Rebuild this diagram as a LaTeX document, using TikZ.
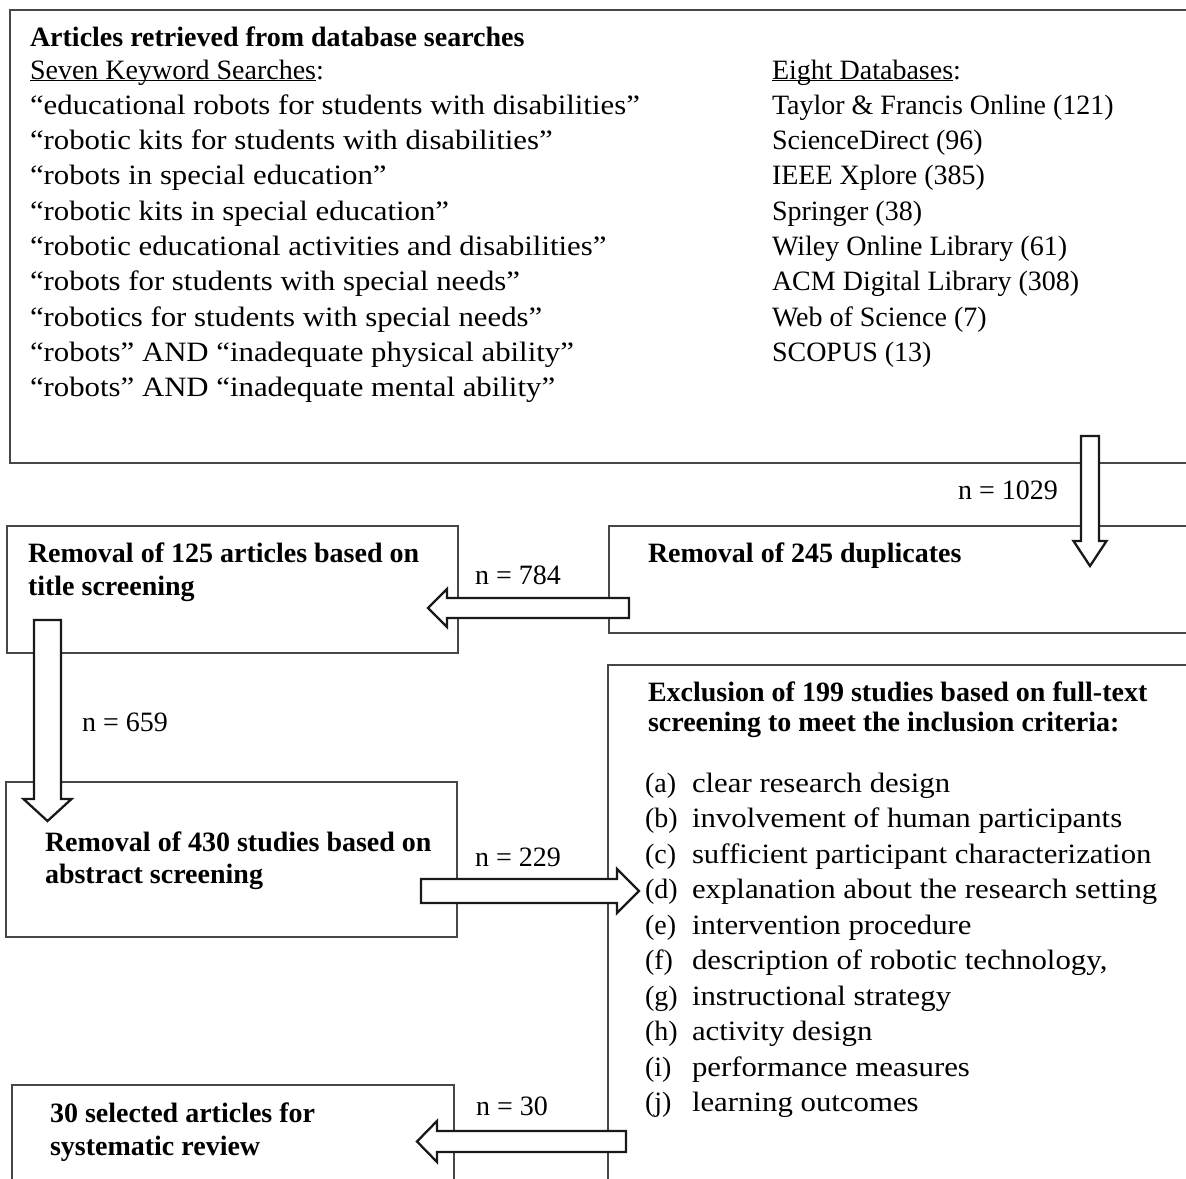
\documentclass[tikz,border=0pt]{standalone}
\usepackage{fontspec}
\setmainfont{Liberation Serif}
\newfontfamily\widefont[FakeStretch=1.1]{Liberation Serif}
\usetikzlibrary{calc}
\tikzset{
  box/.style={draw=black!72, line width=1.5pt, inner sep=0pt, outer sep=0pt, anchor=north west},
  txt/.style={inner sep=0pt, outer sep=0pt, anchor=base west, align=left, font=\fontsize{28}{35.3}\selectfont},
  btxt/.style={inner sep=0pt, outer sep=0pt, anchor=base west, align=left, font=\fontsize{28}{33}\selectfont\bfseries},
  barrow/.style={draw=black!90, line width=2.3pt, fill=white, line join=miter},
}
\newcommand\blockarrow[5]{%
  \coordinate (ba-h) at ($(#2)!#5!(#1)$);
  \draw[barrow] ($(#1)!#3!90:(#2)$) -- ($(ba-h)!#3!-90:(#1)$) -- ($(ba-h)!#4!-90:(#1)$) -- (#2)
    -- ($(ba-h)!#4!90:(#1)$) -- ($(ba-h)!#3!90:(#1)$) -- ($(#1)!#3!-90:(#2)$) -- cycle;}
\newcommand\ul[1]{\underline{\smash{#1}}}
\newcommand\kw[1]{{\widefont #1}}
\newcommand\crit[2]{\makebox[47pt][l]{#1}{\widefont #2}}
\begin{document}
\begin{tikzpicture}[x=1pt,y=-1pt]
\useasboundingbox (0,0) rectangle (1186,1178);
\clip (0,0) rectangle (1186,1178);
\fill[white] (0,0) rectangle (1186,1178);
% boxes
\node[box, minimum width=1190pt, minimum height=453pt] (top) at (10,10) {};
\node[box, minimum width=600pt, minimum height=107pt] (dup) at (609,526) {};
\node[box, minimum width=451pt, minimum height=127pt] (title) at (7,526) {};
\node[box, minimum width=451pt, minimum height=155pt] (abstract) at (6,782) {};
\node[box, minimum width=600pt, minimum height=600pt] (excl) at (608,665) {};
\node[box, minimum width=442pt, minimum height=200pt] (select) at (12,1085) {};
% arrows
\coordinate (a1s) at (1090,436);   \coordinate (a1e) at (1090,566);
\coordinate (a2s) at (629,608);    \coordinate (a2e) at (428,608);
\coordinate (a3s) at (47.5,620);   \coordinate (a3e) at (47.5,821);
\coordinate (a4s) at (421,891);    \coordinate (a4e) at (639,891);
\coordinate (a5s) at (626,1141.5); \coordinate (a5e) at (417,1141.5);
\blockarrow{a1s}{a1e}{9pt}{16.5pt}{25pt}
\blockarrow{a2s}{a2e}{10pt}{19pt}{19pt}
\blockarrow{a3s}{a3e}{13.5pt}{24pt}{22pt}
\blockarrow{a4s}{a4e}{12pt}{22pt}{22pt}
\blockarrow{a5s}{a5e}{10.5pt}{20.5pt}{20pt}
% texts in top box (multi-line nodes: base = last line)
\node[btxt] (toptitle) at (30,46) {Articles retrieved from database searches};
\node[txt] (keywords) at (30,396.7) {\ul{Seven Keyword Searches}:\\
\kw{“educational robots for students with disabilities”}\\
\kw{“robotic kits for students with disabilities”}\\
\kw{“robots in special education”}\\
\kw{“robotic kits in special education”}\\
\kw{“robotic educational activities and disabilities”}\\
\kw{“robots for students with special needs”}\\
\kw{“robotics for students with special needs”}\\
\kw{“robots” AND “inadequate physical ability”}\\
\kw{“robots” AND “inadequate mental ability”}};
\node[txt] (dbs) at (772,361.4) {\ul{Eight Databases}:\\
Taylor \& Francis Online (121)\\
ScienceDirect (96)\\
IEEE Xplore (385)\\
Springer (38)\\
Wiley Online Library (61)\\
ACM Digital Library (308)\\
Web of Science (7)\\
SCOPUS (13)};
% box texts
\node[btxt] (duptxt) at (648,562) {Removal of 245 duplicates};
\node[btxt] (titletxt) at (28,595) {Removal of 125 articles based on\\title screening};
\node[btxt, font=\fontsize{28}{32}\selectfont\bfseries] (abstxt) at (45,883) {Removal of 430 studies based on\\abstract screening};
\node[btxt, font=\fontsize{28}{30}\selectfont\bfseries] (excltxt) at (648,731) {Exclusion of 199 studies based on full-text\\screening to meet the inclusion criteria:};
\node[txt, font=\fontsize{28}{35.5}\selectfont] (crit) at (645,1111.5) {%
\crit{(a)}{clear research design}\\
\crit{(b)}{involvement of human participants}\\
\crit{(c)}{sufficient participant characterization}\\
\crit{(d)}{explanation about the research setting}\\
\crit{(e)}{intervention procedure}\\
\crit{(f)}{description of robotic technology,}\\
\crit{(g)}{instructional strategy}\\
\crit{(h)}{activity design}\\
\crit{(i)}{performance measures}\\
\crit{(j)}{learning outcomes}};
\node[btxt] (seltxt) at (50,1155) {30 selected articles for\\systematic review};
% n labels
\node[txt] (n1029) at (958,499.5) {n = 1029};
\node[txt] (n784) at (475,584) {n = 784};
\node[txt] (n659) at (82,731) {n = 659};
\node[txt] (n229) at (475,866) {n = 229};
\node[txt] (n30) at (476,1115) {n = 30};
\end{tikzpicture}
\end{document}
